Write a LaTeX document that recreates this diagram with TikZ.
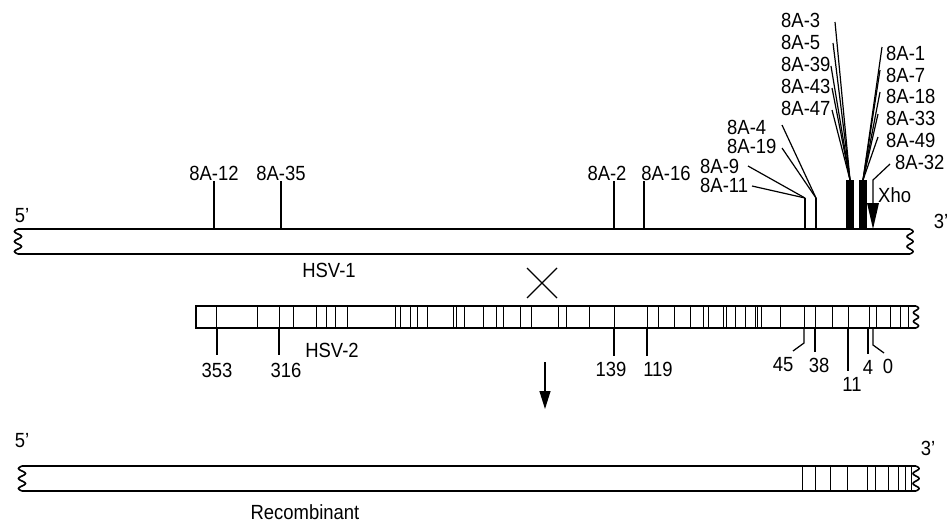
\documentclass[tikz,border=0pt]{standalone}
\usepackage{fontspec}
\setmainfont{Liberation Sans}[FakeStretch=0.9]
\usetikzlibrary{arrows.meta}
\newcommand\wavyend[4]{\draw[strand] plot[domain=0:1,samples=41,smooth] ({#1+#4*sin(900*\x)},{#2+\x*(#3-#2)});}
\begin{document}
\begin{tikzpicture}[x=1pt,y=-1pt,
  lab/.style={font=\fontsize{20.5}{22}\selectfont, inner sep=0pt},
  strand/.style={line width=1.6pt},
  tickline/.style={line width=1.25pt},
  seg/.style={line width=1pt},
  lead/.style={line width=1.2pt}]
\useasboundingbox (0,0) rectangle (949,523);

% ---------------- HSV-1 strand ----------------
\draw[strand] (18,229) -- (910,229);
\draw[strand] (18,254) -- (910,254);
\wavyend{18}{229}{254}{-3.5}
\wavyend{910}{229}{254}{3}
\node[lab] (p5a) at (22,216) {5'};
\node[lab] (p3a) at (941,221) {3'};
\node[lab] (hsv1) at (329,270) {HSV-1};

% simple ticks
\node[lab] (l12) at (214,173) {8A-12};
\node[lab] (l35) at (281,173) {8A-35};
\node[lab] (l2) at (607,173) {8A-2};
\node[lab] (l16) at (666,173) {8A-16};
\draw[tickline] (214,181) -- (214,229);
\draw[tickline] (281,181) -- (281,229);
\draw[tickline] (614,181) -- (614,229);
\draw[tickline] (644,181) -- (644,229);

% 8A-9 / 8A-11
\node[lab,anchor=west] (l9) at (700,166) {8A-9};
\node[lab,anchor=west] (l11) at (700,185) {8A-11};
\coordinate (k1) at (805,198);
\draw[lead] (748,166) -- (k1);
\draw[lead] (752,186) -- (k1);
\draw[tickline] (k1) -- (805,229);

% 8A-4 / 8A-19
\node[lab,anchor=west] (l4) at (727,127) {8A-4};
\node[lab,anchor=west] (l19) at (727,146) {8A-19};
\coordinate (k2) at (816,198);
\draw[lead] (782,125) -- (k2);
\draw[lead] (782,148) -- (k2);
\draw[tickline] (k2) -- (816,229);

% black bars
\fill (846,180) rectangle (854,229);
\fill (859,180) rectangle (867,229);
\coordinate (b1) at (850,180);
\coordinate (b2) at (863,180);

% left fan
\node[lab,anchor=west] (l3) at (781,20) {8A-3};
\node[lab,anchor=west] (l5) at (781,42) {8A-5};
\node[lab,anchor=west] (l39) at (781,64) {8A-39};
\node[lab,anchor=west] (l43) at (781,86) {8A-43};
\node[lab,anchor=west] (l47) at (781,108) {8A-47};
\draw[lead] (835,22) -- (b1);
\draw[lead] (833,43) -- (b1);
\draw[lead] (831,66) -- (b1);
\draw[lead] (832,88) -- (b1);
\draw[lead] (832,110) -- (b1);

% right fan
\node[lab,anchor=west] (l1) at (886,53) {8A-1};
\node[lab,anchor=west] (l7) at (886,75) {8A-7};
\node[lab,anchor=west] (l18) at (886,96) {8A-18};
\node[lab,anchor=west] (l33) at (886,118) {8A-33};
\node[lab,anchor=west] (l49) at (886,140) {8A-49};
\draw[lead] (882,47) -- (b2);
\draw[lead] (880,70) -- (b2);
\draw[lead] (880,92) -- (b2);
\draw[lead] (878,114) -- (b2);
\draw[lead] (878,137) -- (b2);

% 8A-32 and Xho
\node[lab,anchor=west] (l32) at (895,162) {8A-32};
\node[lab,anchor=west] (xho) at (878,195) {Xho};
\coordinate (xk) at (873,180);
\draw[lead] (890,164) -- (xk) -- (873,205);
\fill (867,203) -- (879,203) -- (873,229) -- cycle;

% cross
\draw[lead] (527,268) -- (557,298);
\draw[lead] (527,298) -- (557,268);

% ---------------- HSV-2 strand ----------------
\draw[strand] (916,306) -- (196,306) -- (196,328) -- (916,328);
\wavyend{916}{306}{328}{2.5}
\foreach \p in {216,257,279,293,316,326,335,347,395,400,410,417,427,453,456,464,483,496,503,520,531,558,566,589,614,647,658,674,690,703,708,723,726,735,745,755,757,761,780,804,815,832,848,869,876,890,900,908}
  \draw[seg] (\p,306) -- (\p,328);
\node[lab] (hsv2) at (332,350) {HSV-2};

\node[lab] (n353) at (217,370) {353};
\node[lab] (n316) at (286,370) {316};
\node[lab] (n139) at (611,369) {139};
\node[lab] (n119) at (658,369) {119};
\node[lab] (n45) at (783,365) {45};
\node[lab] (n38) at (819,365) {38};
\node[lab] (n11) at (852,384) {11};
\node[lab] (n4) at (868,367) {4};
\node[lab] (n0) at (888,366) {0};
\draw[tickline] (217,328) -- (217,355);
\draw[tickline] (279,328) -- (279,355);
\draw[tickline] (614,328) -- (614,356);
\draw[tickline] (647,328) -- (647,356);
\draw[tickline] (804,328) -- (804,343) -- (793,351);
\draw[tickline] (815,328) -- (815,352);
\draw[tickline] (848,328) -- (848,371);
\draw[tickline] (868,328) -- (868,354);
\draw[tickline] (873,328) -- (873,345) -- (884,353);

% arrow
\coordinate (a1) at (545,362);
\coordinate (a2) at (545,409);
\draw[lead,-{Triangle[length=18pt,width=11pt]}] (a1) -- (a2);

% ---------------- Recombinant ----------------
\draw[strand] (22,466) -- (916,466);
\draw[strand] (22,491) -- (916,491);
\wavyend{22}{466}{491}{-3.5}
\wavyend{916}{466}{491}{3}
\foreach \p in {802,815,830,847,867,875,888,898,905,911}
  \draw[seg] (\p,466) -- (\p,491);
\node[lab] (p5b) at (22,441) {5'};
\node[lab] (p3b) at (928,448) {3'};
\node[lab] (rec) at (305,512) {Recombinant};
\end{tikzpicture}
\end{document}
